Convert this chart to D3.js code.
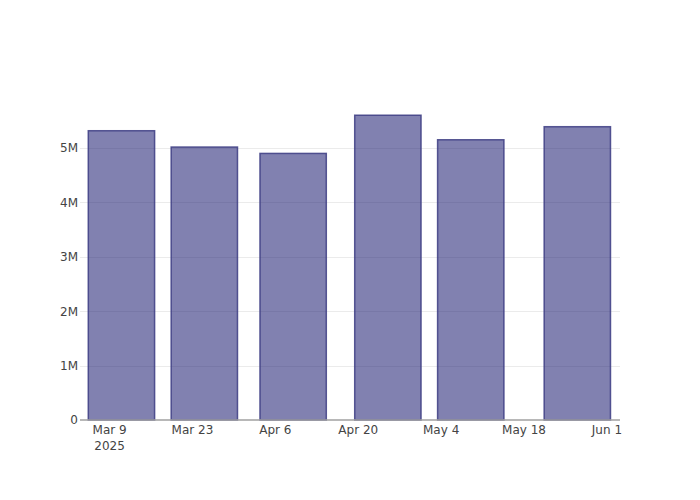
<!DOCTYPE html>
<html>
<head>
<meta charset="utf-8">
<script src="https://cdn.jsdelivr.net/npm/d3@7"></script>
<style>
  html, body { margin: 0; padding: 0; background: #fff; }
  svg { display: block; }
</style>
</head>
<body>
<div id="chart"></div>
<script>
// Data
const dates = ["2025-03-11", "2025-03-25", "2025-04-09", "2025-04-25", "2025-05-09", "2025-05-27"];
const values = [5318000, 5018000, 4901000, 5603000, 5152000, 5392000];
const yTicks = [0, 1000000, 2000000, 3000000, 4000000, 5000000];
const yTickLabels = ["0", "1M", "2M", "3M", "4M", "5M"];
const xTicks = ["2025-03-09", "2025-03-23", "2025-04-06", "2025-04-20", "2025-05-04", "2025-05-18", "2025-06-01"];
const xTickLabels = ["Mar 9", "Mar 23", "Apr 6", "Apr 20", "May 4", "May 18", "Jun 1"];

const W = 700, H = 500;
const margin = { l: 80, r: 80, t: 100, b: 80 };
const parse = d3.timeParse("%Y-%m-%d");
const parseT = d3.isoParse;

const svg = d3.select("#chart").append("svg").attr("width", W).attr("height", H);

const x = d3.scaleTime()
  .domain([parseT("2025-03-04T00:00:00"), parseT("2025-06-03T05:00:00")])
  .range([margin.l, W - margin.r]);

const y = d3.scaleLinear()
  .domain([0, d3.max(values) * 1.05])
  .range([H - margin.b, margin.t]);

const font = "'DejaVu Sans', verdana, arial, sans-serif";

// gridlines
svg.append("g").selectAll("line")
  .data(yTicks.slice(1))
  .join("line")
  .attr("x1", margin.l).attr("x2", W - margin.r)
  .attr("y1", d => Math.round(y(d)) + 0.5).attr("y2", d => Math.round(y(d)) + 0.5)
  .attr("stroke", "#ebebeb").attr("stroke-width", 1);

// bars
const dayMs = 86400000;
const barWidthDays = 14 * 0.8;
const data = dates.map((d, i) => ({ date: parse(d), value: values[i] }));
svg.append("g").selectAll("rect")
  .data(data)
  .join("rect")
  .attr("x", d => x(new Date(+d.date - barWidthDays / 2 * dayMs)))
  .attr("width", d => x(new Date(+d.date + barWidthDays / 2 * dayMs)) - x(new Date(+d.date - barWidthDays / 2 * dayMs)))
  .attr("y", d => y(d.value))
  .attr("height", d => y(0) - y(d.value))
  .attr("fill", "#191970")
  .attr("fill-opacity", 0.55)
  .attr("stroke", "#3c3c82")
  .attr("stroke-opacity", 0.85)
  .attr("stroke-width", 1.5);

// x axis line
svg.append("line")
  .attr("x1", margin.l).attr("x2", W - margin.r)
  .attr("y1", y(0)).attr("y2", y(0))
  .attr("stroke", "#a0a0a0").attr("stroke-width", 1.5);

// y tick labels
svg.append("g").selectAll("text")
  .data(yTicks)
  .join("text")
  .attr("x", margin.l - 2)
  .attr("y", d => y(d))
  .attr("dy", "0.36em")
  .attr("text-anchor", "end")
  .attr("font-family", font)
  .attr("font-size", 12)
  .attr("fill", "#444")
  .text((d, i) => yTickLabels[i]);

// x tick labels
const xg = svg.append("g");
xTicks.forEach((t, i) => {
  const tx = x(parse(t));
  xg.append("text")
    .attr("x", tx)
    .attr("y", y(0) + 14)
    .attr("text-anchor", "middle")
    .attr("font-family", font)
    .attr("font-size", 12)
    .attr("fill", "#444")
    .text(xTickLabels[i]);
  if (i === 0) {
    xg.append("text")
      .attr("x", tx)
      .attr("y", y(0) + 29.5)
      .attr("text-anchor", "middle")
      .attr("font-family", font)
      .attr("font-size", 12)
      .attr("fill", "#444")
      .text("2025");
  }
});
</script>
</body>
</html>
